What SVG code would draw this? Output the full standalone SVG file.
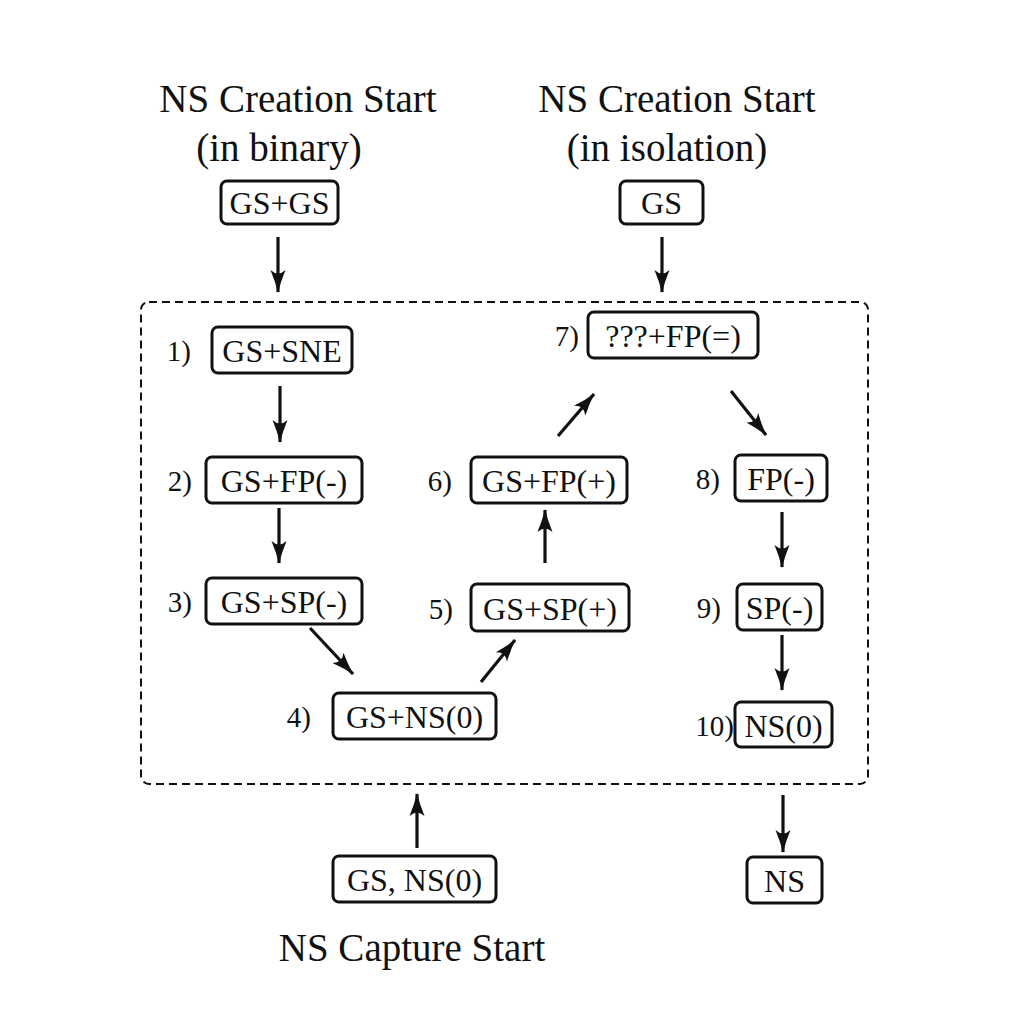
<svg xmlns="http://www.w3.org/2000/svg" width="1024" height="1024" viewBox="0 0 1024 1024">
<defs>
<style>
text{font-family:"Liberation Serif","Times New Roman",serif;fill:#111;}
.title{font-size:39px;text-anchor:middle;}
.lbl{font-size:32px;text-anchor:middle;}
.num{font-size:29px;text-anchor:end;}
.box{fill:#fff;stroke:#111;stroke-width:3;}
.arr{stroke:#111;stroke-width:3.2;fill:none;marker-end:url(#ah);}
</style>
<marker id="ah" markerUnits="userSpaceOnUse" markerWidth="26" markerHeight="18" viewBox="-24 -9 26 18" refX="0" refY="0" orient="auto">
<path d="M1,0 Q-10,-2.5 -22,-7.5 Q-15,0 -22,7.5 Q-10,2.5 1,0 Z" fill="#111"/>
</marker>
</defs>
<rect width="1024" height="1024" fill="#fff"/>
<g id="titles">
<text class="title" x="298" y="112">NS Creation Start</text>
<text class="title" x="279" y="161">(in binary)</text>
<text class="title" x="677" y="112">NS Creation Start</text>
<text class="title" x="667" y="161">(in isolation)</text>
<text class="title" x="412" y="961">NS Capture Start</text>
</g>
<g id="container">
<rect x="141" y="302" width="727" height="482" rx="8" fill="none" stroke="#111" stroke-width="2" stroke-dasharray="8 5"/>
</g>
<g id="connectors">
<line class="arr" x1="278" y1="237" x2="278" y2="292"/>
<line class="arr" x1="662" y1="237" x2="662" y2="292"/>
<line class="arr" x1="280" y1="386" x2="280" y2="442"/>
<line class="arr" x1="279" y1="508" x2="279" y2="563"/>
<line class="arr" x1="310" y1="628" x2="353" y2="674"/>
<line class="arr" x1="481" y1="682" x2="515" y2="640"/>
<line class="arr" x1="545" y1="563" x2="545" y2="510"/>
<line class="arr" x1="558" y1="436" x2="594" y2="394"/>
<line class="arr" x1="731" y1="391" x2="766" y2="435"/>
<line class="arr" x1="782" y1="512" x2="782" y2="567"/>
<line class="arr" x1="782" y1="635" x2="782" y2="690"/>
<line class="arr" x1="417" y1="848" x2="417" y2="794"/>
<line class="arr" x1="783" y1="795" x2="783" y2="852"/>
</g>
<g id="n-gsgs"><rect class="box" x="221" y="181" width="117" height="43" rx="6"/><text class="lbl" x="279.5" y="214">GS+GS</text></g>
<g id="n-gs"><rect class="box" x="620" y="181" width="83" height="43" rx="6"/><text class="lbl" x="661.5" y="214">GS</text></g>
<g id="n1"><text class="num" x="191" y="361">1)</text><rect class="box" x="212" y="327" width="140" height="46" rx="6"/><text class="lbl" x="282" y="362">GS+SNE</text></g>
<g id="n2"><text class="num" x="192" y="491">2)</text><rect class="box" x="206" y="457" width="156" height="46" rx="6"/><text class="lbl" x="284" y="492">GS+FP(-)</text></g>
<g id="n3"><text class="num" x="192" y="612">3)</text><rect class="box" x="206" y="578" width="156" height="46" rx="6"/><text class="lbl" x="284" y="613">GS+SP(-)</text></g>
<g id="n4"><text class="num" x="311" y="727">4)</text><rect class="box" x="333" y="693" width="163" height="46" rx="6"/><text class="lbl" x="414.5" y="728">GS+NS(0)</text></g>
<g id="n5"><text class="num" x="453" y="619">5)</text><rect class="box" x="471" y="584" width="158" height="47" rx="6"/><text class="lbl" x="550" y="620">GS+SP(+)</text></g>
<g id="n6"><text class="num" x="452" y="491">6)</text><rect class="box" x="471" y="457" width="156" height="46" rx="6"/><text class="lbl" x="549" y="492">GS+FP(+)</text></g>
<g id="n7"><text class="num" x="579" y="346">7)</text><rect class="box" x="588" y="312" width="170" height="46" rx="6"/><text class="lbl" x="673" y="347">???+FP(=)</text></g>
<g id="n8"><text class="num" x="720" y="489">8)</text><rect class="box" x="735" y="455" width="92" height="46" rx="6"/><text class="lbl" x="781" y="490">FP(-)</text></g>
<g id="n9"><text class="num" x="721" y="618">9)</text><rect class="box" x="737" y="584" width="85" height="46" rx="6"/><text class="lbl" x="779.5" y="619">SP(-)</text></g>
<g id="n10"><text class="num" x="734" y="736">10)</text><rect class="box" x="735" y="702" width="97" height="45" rx="6"/><text class="lbl" x="783.5" y="737">NS(0)</text></g>
<g id="n-capture"><rect class="box" x="333" y="856" width="163" height="46" rx="6"/><text class="lbl" x="414.5" y="891">GS, NS(0)</text></g>
<g id="n-ns"><rect class="box" x="747" y="857" width="75" height="46" rx="6"/><text class="lbl" x="784.5" y="892">NS</text></g>
</svg>
